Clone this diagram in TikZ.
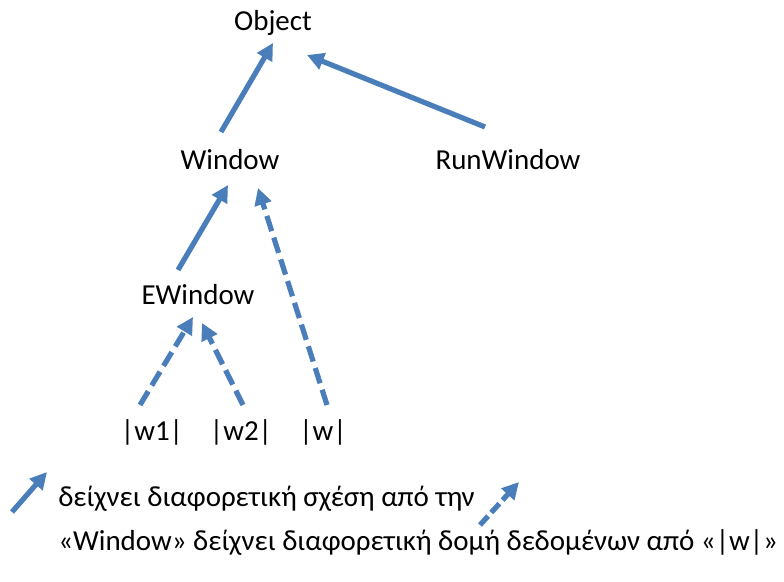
\documentclass[tikz,border=0pt]{standalone}
\usepackage{fontspec}
\setmainfont{Carlito}
\usetikzlibrary{arrows.meta}

\begin{document}
\begin{tikzpicture}[x=0.025cm, y=-0.025cm, >={Triangle[length=0.42cm, width=0.42cm]}]

\definecolor{officeblue}{RGB}{74, 126, 187}

\tikzset{
  cls/.style={inner sep=0pt, font=\fontsize{20.6}{24}\selectfont},
  isa/.style={->, line width=0.13cm, draw=officeblue},
  refarrow/.style={isa, dash pattern=on 0.4cm off 0.17cm}
}

\useasboundingbox (0, 0) rectangle (784, 582);

% Class nodes
\node[cls] (object) at (273, 23) {Object};
\node[cls] (window) at (230, 160) {Window};
\node[cls] (runwindow) at (508, 160) {RunWindow};
\node[cls] (ewindow) at (198, 295) {EWindow};

% Object nodes
\node[cls] (wone) at (152, 432) {|w1|};
\node[cls] (wtwo) at (241, 432) {|w2|};
\node[cls] (wref) at (323, 432) {|w|};

% Solid arrows
\draw[isa] ([shift={(-9,-28)}]window.center) -- ([shift={(0,20)}]object.center);
\draw[isa] ([shift={(-23,-33)}]runwindow.center) -- ([shift={(34,32)}]object.center);
\draw[isa] ([shift={(-20,-25)}]ewindow.center) -- ([shift={(-2,25)}]window.center);

% Dashed arrows
\draw[refarrow] ([shift={(4,-27)}]wref.center) -- ([shift={(28,28)}]window.center);
\draw[refarrow] ([shift={(-12,-27)}]wone.center) -- ([shift={(-5,22)}]ewindow.center);
\draw[refarrow] ([shift={(2,-27)}]wtwo.center) -- ([shift={(4,28)}]ewindow.center);

% Legend
\coordinate (solidfrom) at (12, 512);
\coordinate (solidto) at (47, 472);
\coordinate (dashfrom) at (480, 525);
\coordinate (dashto) at (519, 482);
\draw[isa] (solidfrom) -- (solidto);
\draw[refarrow, dash pattern=on 0.3cm off 0.12cm] (dashfrom) -- (dashto);
\node[cls, anchor=west] (legendone) at (58, 499) {δείχνει διαφορετική σχέση από την};
\node[cls, anchor=west] (legendtwo) at (58, 542) {«Window» δείχνει διαφορετική δομή δεδομένων από «|w|»};

\end{tikzpicture}
\end{document}
